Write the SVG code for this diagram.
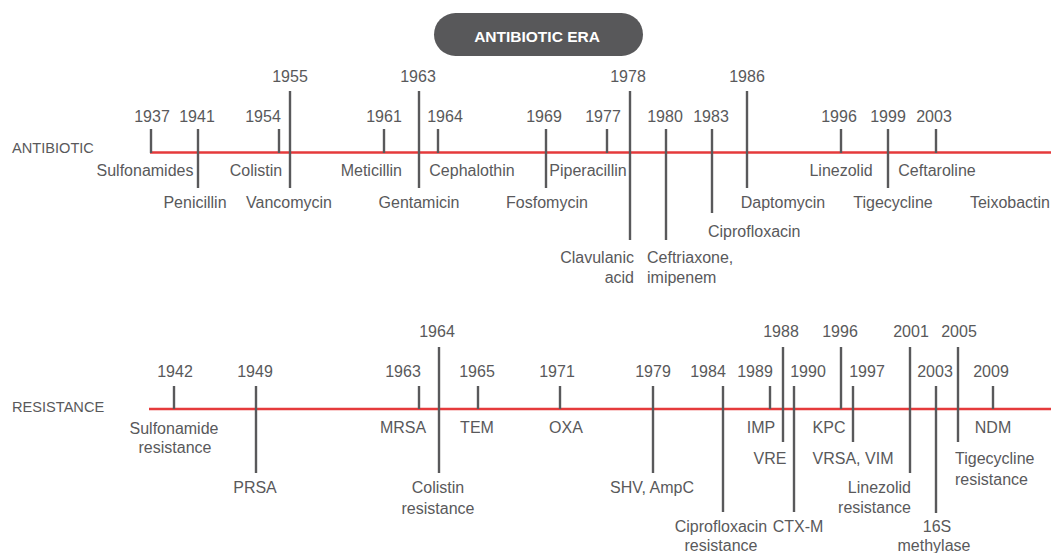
<svg xmlns="http://www.w3.org/2000/svg" width="1051" height="553" viewBox="0 0 1051 553">
<style>
text{font-family:"Liberation Sans",Arial,sans-serif;font-size:16px;fill:#59595b}
.m{text-anchor:middle}.e{text-anchor:end}.s{text-anchor:start}
.cap{font-size:14.6px}
.tk{stroke:#59595b;stroke-width:2.4;fill:none}
.axis{stroke:#e53a3b;stroke-width:2.6;fill:none}
.era{font-size:15.5px;font-weight:bold;fill:#ffffff;text-anchor:middle}
</style>
<rect width="1051" height="553" fill="#ffffff"/>
<g id="era-badge">
<rect x="434" y="13" width="209" height="43" rx="21.5" fill="#58585a"/>
<text class="era" x="537" y="42">ANTIBIOTIC ERA</text>
</g>
<g id="axis-labels">
<text class="cap" x="12" y="153">ANTIBIOTIC</text>
<text class="cap" x="12" y="412">RESISTANCE</text>
</g>
<g id="connectors">
<line class="axis" x1="150" y1="152.5" x2="1051" y2="152.5"/>
<line class="axis" x1="149" y1="409" x2="1051" y2="409"/>
</g>
<!-- Antibiotic timeline -->
<g id="a1937"><line class="tk" x1="151" y1="129" x2="151" y2="153"/><text class="m" x="152" y="122">1937</text><text class="m" x="145" y="176">Sulfonamides</text></g>
<g id="a1941"><line class="tk" x1="198" y1="129" x2="198" y2="188"/><text class="m" x="197" y="122">1941</text><text class="m" x="195" y="208">Penicillin</text></g>
<g id="a1954"><line class="tk" x1="279" y1="129" x2="279" y2="153"/><text class="m" x="263" y="122">1954</text><text class="m" x="256" y="176">Colistin</text></g>
<g id="a1955"><line class="tk" x1="290" y1="91" x2="290" y2="188"/><text class="m" x="290" y="82">1955</text><text class="m" x="289" y="208">Vancomycin</text></g>
<g id="a1961"><line class="tk" x1="384" y1="129" x2="384" y2="153"/><text class="m" x="384" y="122">1961</text><text class="e" x="402" y="176">Meticillin</text></g>
<g id="a1963"><line class="tk" x1="419" y1="91" x2="419" y2="188"/><text class="m" x="418" y="82">1963</text><text class="m" x="419" y="208">Gentamicin</text></g>
<g id="a1964"><line class="tk" x1="438" y1="129" x2="438" y2="153"/><text class="m" x="445" y="122">1964</text><text class="m" x="472" y="176">Cephalothin</text></g>
<g id="a1969"><line class="tk" x1="546" y1="129" x2="546" y2="188"/><text class="m" x="544" y="122">1969</text><text class="m" x="547" y="208">Fosfomycin</text></g>
<g id="a1977"><line class="tk" x1="607" y1="129" x2="607" y2="153"/><text class="m" x="603" y="122">1977</text><text class="m" x="588" y="176">Piperacillin</text></g>
<g id="a1978"><line class="tk" x1="630" y1="91" x2="630" y2="240"/><text class="m" x="628" y="82">1978</text><text class="e" x="634" y="263">Clavulanic</text><text class="e" x="634" y="283">acid</text></g>
<g id="a1980"><line class="tk" x1="666" y1="129" x2="666" y2="240"/><text class="m" x="665" y="122">1980</text><text class="s" x="647" y="263">Ceftriaxone,</text><text class="s" x="647" y="283">imipenem</text></g>
<g id="a1983"><line class="tk" x1="712" y1="129" x2="712" y2="213"/><text class="m" x="711" y="122">1983</text><text class="s" x="708" y="237">Ciprofloxacin</text></g>
<g id="a1986"><line class="tk" x1="747" y1="91" x2="747" y2="188"/><text class="m" x="747" y="82">1986</text><text class="m" x="783" y="208">Daptomycin</text></g>
<g id="a1996"><line class="tk" x1="841" y1="129" x2="841" y2="153"/><text class="m" x="839" y="122">1996</text><text class="m" x="841" y="176">Linezolid</text></g>
<g id="a1999"><line class="tk" x1="888" y1="129" x2="888" y2="188"/><text class="m" x="888" y="122">1999</text><text class="m" x="893" y="208">Tigecycline</text></g>
<g id="a2003"><line class="tk" x1="936" y1="129" x2="936" y2="153"/><text class="m" x="934" y="122">2003</text><text class="m" x="937" y="176">Ceftaroline</text></g>
<g id="a-teixobactin"><text class="m" x="1010" y="208">Teixobactin</text></g>
<!-- Resistance timeline -->
<g id="r1942"><line class="tk" x1="174" y1="386" x2="174" y2="409"/><text class="m" x="175" y="377">1942</text><text class="m" x="174" y="434">Sulfonamide</text><text class="m" x="175" y="453">resistance</text></g>
<g id="r1949"><line class="tk" x1="256" y1="386" x2="256" y2="473"/><text class="m" x="255" y="377">1949</text><text class="m" x="255" y="493">PRSA</text></g>
<g id="r1963"><line class="tk" x1="419" y1="386" x2="419" y2="409"/><text class="m" x="403" y="377">1963</text><text class="m" x="403" y="433">MRSA</text></g>
<g id="r1964"><line class="tk" x1="439" y1="347" x2="439" y2="473"/><text class="m" x="437" y="337">1964</text><text class="m" x="438" y="493">Colistin</text><text class="m" x="438" y="514">resistance</text></g>
<g id="r1965"><line class="tk" x1="478" y1="386" x2="478" y2="409"/><text class="m" x="477" y="377">1965</text><text class="m" x="477" y="433">TEM</text></g>
<g id="r1971"><line class="tk" x1="560" y1="386" x2="560" y2="409"/><text class="m" x="557" y="377">1971</text><text class="m" x="566" y="433">OXA</text></g>
<g id="r1979"><line class="tk" x1="653" y1="386" x2="653" y2="473"/><text class="m" x="653" y="377">1979</text><text class="m" x="652" y="493">SHV, AmpC</text></g>
<g id="r1984"><line class="tk" x1="723" y1="386" x2="723" y2="512"/><text class="m" x="708" y="377">1984</text><text class="m" x="721" y="532">Ciprofloxacin</text><text class="m" x="721" y="551">resistance</text></g>
<g id="r1988"><line class="tk" x1="783" y1="347" x2="783" y2="442"/><text class="m" x="781" y="337">1988</text><text class="m" x="770" y="464">VRE</text></g>
<g id="r1989"><line class="tk" x1="770" y1="386" x2="770" y2="409"/><text class="m" x="755" y="377">1989</text><text class="m" x="761" y="433">IMP</text></g>
<g id="r1990"><line class="tk" x1="794" y1="386" x2="794" y2="512"/><text class="m" x="808" y="377">1990</text><text class="m" x="798" y="532">CTX-M</text></g>
<g id="r1996"><line class="tk" x1="841" y1="347" x2="841" y2="409"/><text class="m" x="840" y="337">1996</text><text class="m" x="829" y="433">KPC</text></g>
<g id="r1997"><line class="tk" x1="853" y1="386" x2="853" y2="442"/><text class="m" x="867" y="377">1997</text><text class="m" x="853" y="464">VRSA, VIM</text></g>
<g id="r2001"><line class="tk" x1="910" y1="347" x2="910" y2="473"/><text class="m" x="911" y="337">2001</text><text class="e" x="911" y="493">Linezolid</text><text class="e" x="911" y="513">resistance</text></g>
<g id="r2003"><line class="tk" x1="936" y1="386" x2="936" y2="513"/><text class="m" x="935" y="377">2003</text><text class="m" x="937" y="532">16S</text><text class="m" x="934" y="551">methylase</text></g>
<g id="r2005"><line class="tk" x1="958" y1="347" x2="958" y2="442"/><text class="m" x="959" y="337">2005</text><text class="s" x="955" y="464">Tigecycline</text><text class="s" x="955" y="485">resistance</text></g>
<g id="r2009"><line class="tk" x1="993" y1="386" x2="993" y2="409"/><text class="m" x="991" y="377">2009</text><text class="m" x="993" y="433">NDM</text></g>
</svg>
